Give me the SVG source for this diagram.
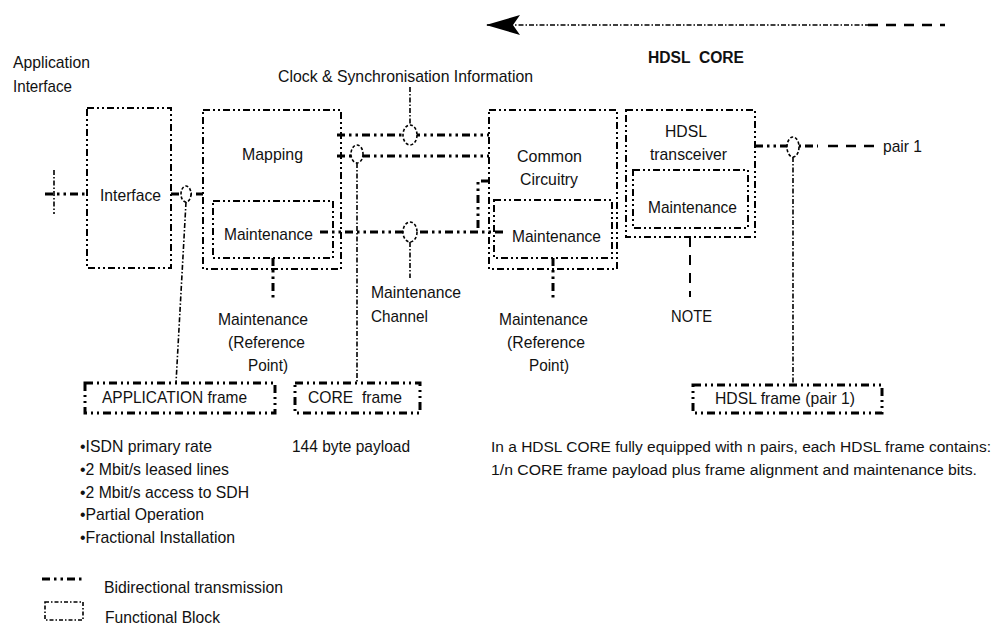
<svg xmlns="http://www.w3.org/2000/svg" width="1005" height="626" viewBox="0 0 1005 626">
<defs>
<style>
text{font-family:"Liberation Sans",Arial,sans-serif;font-size:17px;fill:#111}
.b{font-weight:bold;font-size:16px}
.s{font-size:15.5px}
.box{fill:none;stroke:#000;stroke-width:2;stroke-dasharray:7 3 2 3 2 3}
.frame{fill:none;stroke:#000;stroke-width:3;stroke-dasharray:8 4 2 4 2 4}
.link{fill:none;stroke:#000;stroke-width:3;stroke-dasharray:8 4 2.5 4 2.5 4}
.thin{fill:none;stroke:#000;stroke-width:1.6;stroke-dasharray:5 2 1.5 2}
.dash{fill:none;stroke:#000;stroke-width:2.5;stroke-dasharray:10 8}
.ring{fill:#fff;stroke:#000;stroke-width:1.6;stroke-dasharray:3 2}
</style>
<marker id="ah" markerWidth="36" markerHeight="22" refX="1" refY="11" orient="auto" markerUnits="userSpaceOnUse">
<path d="M0,11 L34,1 L27,11 L34,21 Z" fill="#000"/>
</marker>
</defs>

<g id="headers">
<text x="13" y="68" textLength="77" lengthAdjust="spacingAndGlyphs">Application</text>
<text x="13" y="92" textLength="59" lengthAdjust="spacingAndGlyphs">Interface</text>
<text x="278" y="82" textLength="255" lengthAdjust="spacingAndGlyphs">Clock &amp; Synchronisation Information</text>
<text x="648" y="63" class="b" textLength="96" lengthAdjust="spacingAndGlyphs" xml:space="preserve">HDSL  CORE</text>
</g>

<g id="core-arrow">
<line x1="487" y1="25" x2="868" y2="25" class="thin" marker-start="url(#ah)"/>
<line x1="868" y1="25" x2="945" y2="25" class="dash"/>
</g>

<g id="interface">
<rect x="87" y="108" width="84" height="160" class="box"/>
<text x="100" y="201" textLength="61" lengthAdjust="spacingAndGlyphs">Interface</text>
</g>

<g id="mapping">
<rect x="203" y="110" width="138" height="159" class="box"/>
<text x="242" y="160" textLength="61" lengthAdjust="spacingAndGlyphs">Mapping</text>
<g id="mapping-maintenance">
<rect x="213" y="201" width="120" height="57" class="box"/>
<text x="224" y="240" textLength="89" lengthAdjust="spacingAndGlyphs">Maintenance</text>
</g>
</g>

<g id="common">
<rect x="489" y="110" width="128" height="159" class="box"/>
<text x="517" y="162" textLength="65" lengthAdjust="spacingAndGlyphs">Common</text>
<text x="520" y="185" textLength="58" lengthAdjust="spacingAndGlyphs">Circuitry</text>
<g id="common-maintenance">
<rect x="494" y="200" width="118" height="58" class="box"/>
<text x="512" y="242" textLength="89" lengthAdjust="spacingAndGlyphs">Maintenance</text>
</g>
</g>

<g id="transceiver">
<rect x="626" y="110" width="129" height="127" class="box"/>
<text x="665" y="137" textLength="42" lengthAdjust="spacingAndGlyphs">HDSL</text>
<text x="650" y="160" textLength="77" lengthAdjust="spacingAndGlyphs">transceiver</text>
<g id="transceiver-maintenance">
<rect x="633" y="170" width="115" height="58" class="box"/>
<text x="648" y="213" textLength="89" lengthAdjust="spacingAndGlyphs">Maintenance</text>
</g>
</g>

<g id="app-frame">
<rect x="85" y="383" width="190" height="30" class="frame"/>
<text x="102" y="403" textLength="145" lengthAdjust="spacingAndGlyphs">APPLICATION frame</text>
</g>
<g id="core-frame">
<rect x="295" y="383" width="125" height="30" class="frame"/>
<text x="308" y="403" xml:space="preserve" textLength="94" lengthAdjust="spacingAndGlyphs">CORE  frame</text>
</g>
<g id="hdsl-frame">
<rect x="693" y="385" width="189" height="28" class="frame"/>
<text x="715" y="404" textLength="140" lengthAdjust="spacingAndGlyphs">HDSL frame (pair 1)</text>
</g>

<g id="connectors">
<line x1="45" y1="194" x2="87" y2="194" class="link"/>
<line x1="54" y1="170" x2="54" y2="214" class="thin"/>
<line x1="171" y1="194" x2="203" y2="194" class="link"/>
<line x1="186" y1="202" x2="176" y2="383" class="thin"/>
<ellipse cx="186" cy="194" rx="5" ry="8" class="ring"/>
<line x1="337" y1="135" x2="489" y2="135" class="link"/>
<line x1="410" y1="87" x2="410" y2="125" class="thin"/>
<ellipse cx="410" cy="135" rx="7" ry="10" class="ring"/>
<line x1="337" y1="156" x2="489" y2="156" class="link"/>
<line x1="357" y1="163" x2="357" y2="383" class="thin"/>
<ellipse cx="357" cy="154" rx="6" ry="9" class="ring"/>
<line x1="320" y1="232" x2="503" y2="232" class="link"/>
<polyline points="489,181 478,181 478,232" class="link"/>
<line x1="410" y1="242" x2="410" y2="278" class="thin"/>
<ellipse cx="410" cy="232" rx="7" ry="10" class="ring"/>
<line x1="273" y1="258" x2="273" y2="300" class="link"/>
<line x1="553" y1="258" x2="553" y2="299" class="link"/>
<line x1="690" y1="237" x2="690" y2="297" class="dash" style="stroke-width:2"/>
<line x1="755" y1="146" x2="818" y2="146" class="link"/>
<line x1="828" y1="146" x2="876" y2="146" class="dash"/>
<line x1="793" y1="157" x2="793" y2="385" class="thin"/>
<ellipse cx="793" cy="147" rx="6" ry="10" class="ring"/>
</g>

<g id="labels">
<text x="883" y="152" textLength="39" lengthAdjust="spacingAndGlyphs">pair 1</text>
<text x="371" y="298" textLength="90" lengthAdjust="spacingAndGlyphs">Maintenance</text>
<text x="371" y="322" textLength="57" lengthAdjust="spacingAndGlyphs">Channel</text>
<text x="218" y="325" textLength="90" lengthAdjust="spacingAndGlyphs">Maintenance</text>
<text x="228" y="348" textLength="77" lengthAdjust="spacingAndGlyphs">(Reference</text>
<text x="248" y="371" textLength="40" lengthAdjust="spacingAndGlyphs">Point)</text>
<text x="499" y="325" textLength="89" lengthAdjust="spacingAndGlyphs">Maintenance</text>
<text x="507" y="348" textLength="78" lengthAdjust="spacingAndGlyphs">(Reference</text>
<text x="529" y="371" textLength="40" lengthAdjust="spacingAndGlyphs">Point)</text>
<text x="671" y="322" textLength="41" lengthAdjust="spacingAndGlyphs">NOTE</text>
</g>

<g id="notes">
<text x="80" y="452" textLength="132" lengthAdjust="spacingAndGlyphs">•ISDN primary rate</text>
<text x="80" y="475" textLength="149" lengthAdjust="spacingAndGlyphs">•2 Mbit/s leased lines</text>
<text x="80" y="498" textLength="169" lengthAdjust="spacingAndGlyphs">•2 Mbit/s access to SDH</text>
<text x="80" y="520" textLength="124" lengthAdjust="spacingAndGlyphs">•Partial Operation</text>
<text x="80" y="543" textLength="155" lengthAdjust="spacingAndGlyphs">•Fractional Installation</text>
<text x="292" y="452" textLength="118" lengthAdjust="spacingAndGlyphs">144 byte payload</text>
<text x="491" y="452" class="s" textLength="500" lengthAdjust="spacingAndGlyphs">In a HDSL CORE fully equipped with n pairs, each HDSL frame contains:</text>
<text x="491" y="475" class="s" textLength="486" lengthAdjust="spacingAndGlyphs">1/n CORE frame payload plus frame alignment and maintenance bits.</text>
</g>

<g id="legend">
<line x1="42" y1="579" x2="84" y2="579" class="link"/>
<text x="104" y="593" textLength="179" lengthAdjust="spacingAndGlyphs">Bidirectional transmission</text>
<rect x="45" y="602" width="38" height="18" fill="none" stroke="#000" stroke-width="1.6" stroke-dasharray="4 2 1.5 2"/>
<text x="105" y="623" textLength="115" lengthAdjust="spacingAndGlyphs">Functional Block</text>
</g>
</svg>
